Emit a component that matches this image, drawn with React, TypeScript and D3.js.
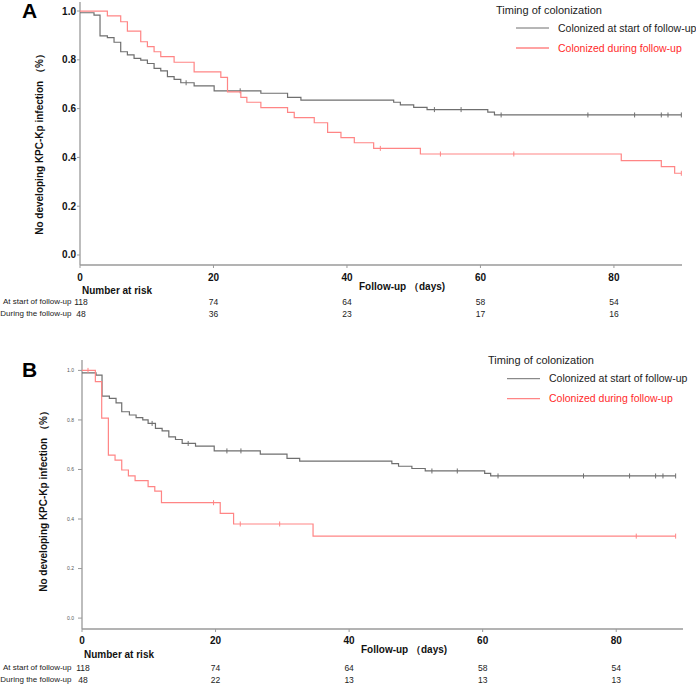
import React from "react";
import * as d3 from "d3";

// ---------- Data ----------
const riskTimes = [0, 20, 40, 60, 80];
const xTicks = [0, 20, 40, 60, 80];
const yTicks = [0, 0.2, 0.4, 0.6, 0.8, 1.0];
const rowLabels = ["At start of follow-up", "During the follow-up"];
const legendLabels = ["Colonized at start of follow-up", "Colonized during follow-up"];

// Panel A
const daysA_start = [0, 2.1, 3.0, 4.1, 5.1, 6.1, 7.1, 8.1, 9.1, 10.1, 11.1, 12.1, 13.1, 14.1, 15.1, 17.1, 20.1, 27.1, 31.1, 33.1, 47.0, 48.0, 50.0, 52.0, 61.1, 62.1];
const survA_start = [0.993, 0.983, 0.898, 0.891, 0.872, 0.833, 0.82, 0.806, 0.799, 0.785, 0.765, 0.755, 0.731, 0.72, 0.706, 0.693, 0.673, 0.663, 0.646, 0.635, 0.626, 0.615, 0.605, 0.596, 0.586, 0.574];
const censorA_start = [15.9, 24.0, 53.1, 57.1, 63.1, 76.1, 83.1, 87.1, 88.1, 90.1];
const daysA_during = [0, 4.1, 6.1, 7.1, 9.1, 10.1, 11.1, 12.1, 14.1, 17.1, 21.1, 22.1, 24.1, 25.0, 27.1, 31.1, 32.1, 35.1, 37.1, 39.1, 41.1, 44.0, 51.0, 81.1, 87.1, 89.1];
const survA_during = [1.0, 0.98, 0.956, 0.918, 0.874, 0.854, 0.833, 0.813, 0.79, 0.751, 0.728, 0.669, 0.646, 0.626, 0.604, 0.585, 0.563, 0.542, 0.503, 0.481, 0.46, 0.437, 0.414, 0.387, 0.362, 0.335];
const censorA_during = [45.0, 54.0, 65.0, 90.1];
const riskA_start = [118, 74, 64, 58, 54];
const riskA_during = [48, 36, 23, 17, 16];

// Panel B
const daysB_start = [0, 2.1, 3.0, 4.1, 5.1, 5.95, 7.1, 8.1, 9.1, 9.9, 11, 12, 13, 14, 15, 17, 19.8, 26.7, 30.7, 32.6, 46.4, 47.4, 49.4, 51.4, 60.3, 61.2];
const survB_start = [0.99, 0.981, 0.896, 0.887, 0.869, 0.833, 0.82, 0.809, 0.8, 0.786, 0.766, 0.756, 0.732, 0.721, 0.705, 0.694, 0.675, 0.662, 0.645, 0.634, 0.624, 0.613, 0.604, 0.594, 0.584, 0.574];
const censorB_start = [10.5, 15.9, 21.7, 23.8, 52.4, 56.2, 62.3, 75.1, 82.0, 85.9, 87.0, 88.9];
const daysB_during = [0, 2.0, 2.95, 3.95, 4.95, 5.95, 6.95, 7.95, 9.9, 10.9, 11.9, 20.7, 22.7, 34.6];
const survB_during = [1.0, 0.955, 0.807, 0.658, 0.638, 0.598, 0.574, 0.555, 0.531, 0.513, 0.466, 0.423, 0.38, 0.331];
const censorB_during = [0.9, 19.7, 23.7, 29.6, 83.0, 88.9];
const riskB_start = [118, 74, 64, 58, 54];
const riskB_during = [48, 22, 13, 13, 13];

const GREY = "#6f6f6f";
const RED = "#ff8585";
const FONT = "'Liberation Sans', Arial, Helvetica, sans-serif";
const yTitle = "No developing KPC-Kp infection （%）";

type Curve = { days: number[]; surv: number[]; censor: number[]; end: number; color: string };

type PanelProps = {
  letter: string;
  letterXY: [number, number];
  letterSize: number;
  xRange: [number, number];
  xMax: number;
  yRange: [number, number];
  yDomain: [number, number];
  yTickSize: number;
  yTickColor: string;
  yTickLen: number;
  yTickLabelX: number;
  yTitleXY: [number, number];
  xLabelY: number;
  nRiskY: number;
  followXY: [number, number];
  rowY: [number, number];
  legend: { titleX: number; titleY: number; lineX: [number, number]; y1: number; y2: number; textX: number };
  curves: Curve[];
  risks: number[][];
};

function stepValue(days: number[], surv: number[], t: number) {
  let v = surv[0];
  for (let i = 0; i < days.length; i++) if (days[i] <= t) v = surv[i];
  return v;
}

function Panel(p: PanelProps) {
  const x = d3.scaleLinear().domain([0, p.xMax]).range(p.xRange);
  const y = d3.scaleLinear().domain(p.yDomain).range(p.yRange);
  const line = d3
    .line<[number, number]>()
    .x((d) => x(d[0]))
    .y((d) => y(d[1]))
    .curve(d3.curveStepAfter);
  const axisColor = "#9a9a9a";
  return (
    <g fontFamily={FONT}>
      <text x={p.letterXY[0]} y={p.letterXY[1]} fontSize={p.letterSize} fontWeight="bold" fill="#000">
        {p.letter}
      </text>
      {/* axes */}
      <line x1={p.xRange[0]} x2={p.xRange[0]} y1={p.yRange[0]} y2={p.yRange[1]} stroke={axisColor} strokeWidth={1.3} />
      <line x1={p.xRange[0]} x2={p.xRange[1]} y1={p.yRange[0]} y2={p.yRange[0]} stroke={axisColor} strokeWidth={1.3} />
      {yTicks.map((t) => (
        <g key={"yt" + t}>
          <line x1={p.xRange[0] - p.yTickLen} x2={p.xRange[0]} y1={y(t)} y2={y(t)} stroke={axisColor} strokeWidth={1} />
          <text
            x={p.yTickLabelX}
            y={y(t)}
            dy="0.35em"
            textAnchor="end"
            fontSize={p.yTickSize}
            fontWeight={p.yTickSize > 7 ? "bold" : "normal"}
            fill={p.yTickColor}
          >
            {d3.format(".1f")(t)}
          </text>
        </g>
      ))}
      {xTicks.map((t) => (
        <g key={"xt" + t}>
          <line x1={x(t)} x2={x(t)} y1={p.yRange[0]} y2={p.yRange[0] + 3} stroke={axisColor} strokeWidth={1} />
          <text x={x(t)} y={p.xLabelY} textAnchor="middle" fontSize={10} fontWeight="bold" fill="#111">
            {t}
          </text>
        </g>
      ))}
      <text
        transform={`translate(${p.yTitleXY[0]},${p.yTitleXY[1]}) rotate(-90)`}
        textAnchor="middle"
        dy="0.35em"
        fontSize={10}
        fontWeight="bold"
        fill="#111"
      >
        {yTitle}
      </text>
      {/* curves */}
      {p.curves.map((c, i) => {
        const pts: [number, number][] = c.days.map((d, k) => [d, c.surv[k]] as [number, number]);
        pts.push([c.end, c.surv[c.surv.length - 1]]);
        return (
          <g key={"c" + i}>
            <path d={line(pts) || ""} fill="none" stroke={c.color} strokeWidth={1.2} />
            {c.censor.map((t, k) => {
              const v = stepValue(c.days, c.surv, t);
              return (
                <line key={k} x1={x(t)} x2={x(t)} y1={y(v) - 2.5} y2={y(v) + 2.5} stroke={c.color} strokeWidth={1} />
              );
            })}
          </g>
        );
      })}
      {/* legend */}
      <text x={p.legend.titleX} y={p.legend.titleY} fontSize={11} fill="#222">
        Timing of colonization
      </text>
      <line x1={p.legend.lineX[0]} x2={p.legend.lineX[1]} y1={p.legend.y1} y2={p.legend.y1} stroke={GREY} strokeWidth={1} />
      <text x={p.legend.textX} y={p.legend.y1} dy="0.35em" fontSize={10.5} fill="#222">
        {legendLabels[0]}
      </text>
      <line x1={p.legend.lineX[0]} x2={p.legend.lineX[1]} y1={p.legend.y2} y2={p.legend.y2} stroke={RED} strokeWidth={1.3} />
      <text x={p.legend.textX} y={p.legend.y2} dy="0.35em" fontSize={10.5} fill="#ff2a2a">
        {legendLabels[1]}
      </text>
      {/* risk table */}
      <text x={p.xRange[0] + 2} y={p.nRiskY} fontSize={10} fontWeight="bold" fill="#111">
        Number at risk
      </text>
      <text x={p.followXY[0]} y={p.followXY[1]} fontSize={10} fontWeight="bold" fill="#111">
        Follow-up （days)
      </text>
      {rowLabels.map((lab, r) => (
        <g key={"r" + r}>
          <text x={71.5} y={p.rowY[r]} textAnchor="end" fontSize={8} fill="#222">
            {lab}
          </text>
          {riskTimes.map((t, k) => (
            <text key={k} x={x(t) + (k === 0 ? 1 : 0)} y={p.rowY[r] + 1} textAnchor="middle" fontSize={8.5} fill="#222">
              {p.risks[r][k]}
            </text>
          ))}
        </g>
      ))}
    </g>
  );
}

export default function App() {
  return (
    <svg
      width={696}
      height={684}
      style={{ position: "absolute", left: 0, top: 0, background: "#fff" }}
    >
      <rect width={696} height={684} fill="#fff" />
      <Panel
        letter="A"
        letterXY={[22, 18]}
        letterSize={21}
        xRange={[80, 682]}
        xMax={90.2}
        yRange={[265, 2]}
        yDomain={[-0.041, 1.037]}
        yTickSize={10}
        yTickColor="#111"
        yTickLen={3}
        yTickLabelX={76}
        yTitleXY={[39.5, 142]}
        xLabelY={280.5}
        nRiskY={293.5}
        followXY={[359, 290]}
        rowY={[304, 316]}
        legend={{ titleX: 496, titleY: 14, lineX: [516, 549], y1: 28, y2: 48, textX: 558 }}
        curves={[
          { days: daysA_start, surv: survA_start, censor: censorA_start, end: 90.1, color: GREY },
          { days: daysA_during, surv: survA_during, censor: censorA_during, end: 90.1, color: RED },
        ]}
        risks={[riskA_start, riskA_during]}
      />
      <Panel
        letter="B"
        letterXY={[22, 377]}
        letterSize={21}
        xRange={[82, 683]}
        xMax={90.0}
        yRange={[629, 360]}
        yDomain={[-0.044, 1.042]}
        yTickSize={5}
        yTickColor="#555"
        yTickLen={4}
        yTickLabelX={74}
        yTitleXY={[43.5, 499]}
        xLabelY={644}
        nRiskY={658}
        followXY={[361, 653]}
        rowY={[669.5, 681.5]}
        legend={{ titleX: 488, titleY: 364, lineX: [507, 540], y1: 378.7, y2: 398.7, textX: 549 }}
        curves={[
          { days: daysB_start, surv: survB_start, censor: censorB_start, end: 88.9, color: GREY },
          { days: daysB_during, surv: survB_during, censor: censorB_during, end: 88.9, color: RED },
        ]}
        risks={[riskB_start, riskB_during]}
      />
    </svg>
  );
}
